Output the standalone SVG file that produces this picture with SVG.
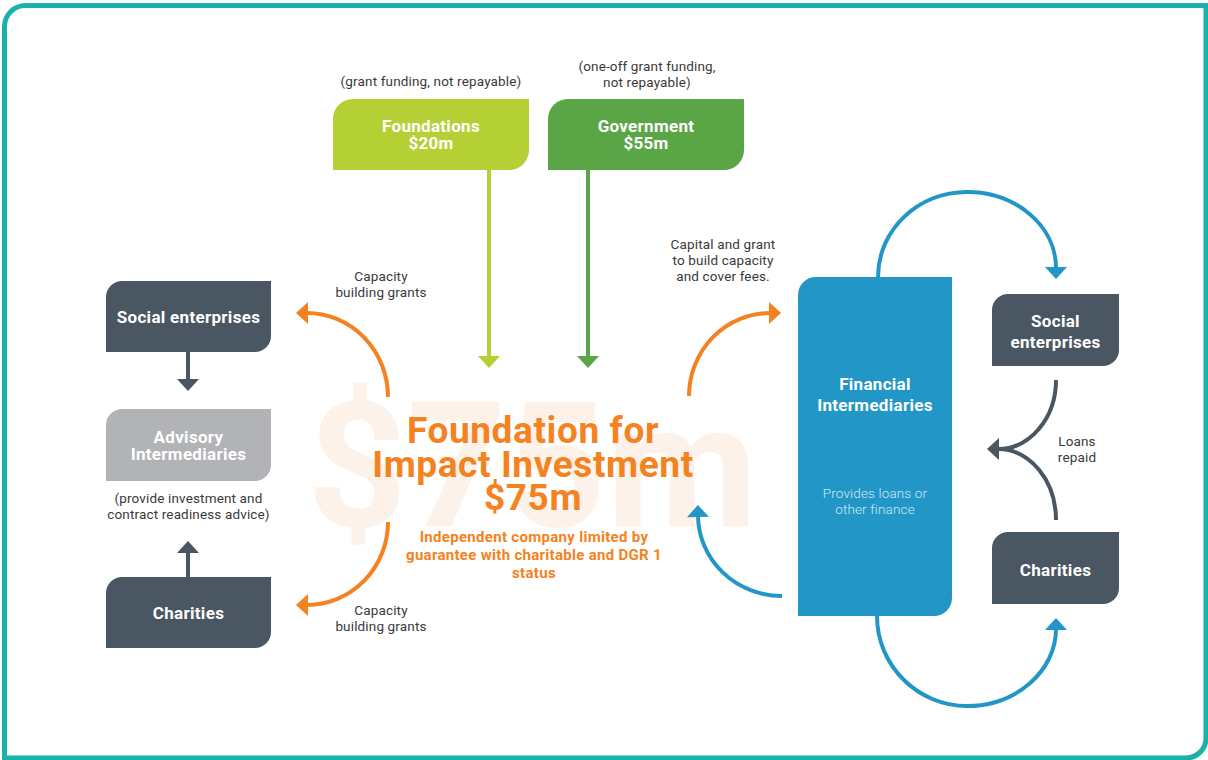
<svg xmlns="http://www.w3.org/2000/svg" width="1208" height="760" viewBox="0 0 1208 760">
  <style>
    .bold { font-family: Roboto, "Liberation Sans", sans-serif; font-weight: 700; text-anchor: middle; }
    .node-label { font-size: 17px; letter-spacing: 0.3px; fill: #ffffff; }
    .note { font-family: Roboto, "Liberation Sans", sans-serif; font-weight: 400; font-size: 13.5px; letter-spacing: 0.15px; fill: #3a3a3a; text-anchor: middle; }
    .note-light { font-family: Roboto, "Liberation Sans", sans-serif; font-weight: 300; font-size: 13.5px; letter-spacing: 0.15px; fill: #cfe9f5; text-anchor: middle; }
    .title { font-size: 37px; letter-spacing: 0.6px; fill: #f58220; }
    .subtitle { font-size: 15px; letter-spacing: 0.3px; fill: #f58220; }
    .watermark { font-size: 174px; fill: #fdf2ea; }
    .slate { fill: #4a5662; }
    .conn { fill: none; stroke-width: 4; }
  </style>
  <defs>
    <marker id="head-orange" markerUnits="userSpaceOnUse" markerWidth="13" markerHeight="22" refX="1" refY="11" orient="auto" overflow="visible">
      <path d="M0,0 L12,11 L0,22 Z" fill="#f58220"/>
    </marker>
    <marker id="head-blue" markerUnits="userSpaceOnUse" markerWidth="13" markerHeight="22" refX="1" refY="11" orient="auto" overflow="visible">
      <path d="M0,0 L12,11 L0,22 Z" fill="#2297c7"/>
    </marker>
    <marker id="head-lime" markerUnits="userSpaceOnUse" markerWidth="13" markerHeight="22" refX="1" refY="11" orient="auto" overflow="visible">
      <path d="M0,0 L12,11 L0,22 Z" fill="#b5d035"/>
    </marker>
    <marker id="head-green" markerUnits="userSpaceOnUse" markerWidth="13" markerHeight="22" refX="1" refY="11" orient="auto" overflow="visible">
      <path d="M0,0 L12,11 L0,22 Z" fill="#5aa646"/>
    </marker>
    <marker id="head-slate" markerUnits="userSpaceOnUse" markerWidth="13" markerHeight="22" refX="1" refY="11" orient="auto" overflow="visible">
      <path d="M0,0 L12,11 L0,22 Z" fill="#4a5662"/>
    </marker>
  </defs>

  <rect width="1208" height="760" fill="#ffffff"/>

  <!-- frame -->
  <path d="M4.5,758 V26 A21,21 0 0 1 25.5,5.5 H1206 V738 A20,20 0 0 1 1186,758 Z" fill="none" stroke="#19b2aa" stroke-width="5"/>

  <!-- large background amount -->
  <text class="bold watermark" x="532" y="526">$75m</text>

  <!-- connectors -->
  <g id="connectors">
    <line class="conn" x1="489" y1="170" x2="489" y2="357" stroke="#b5d035" marker-end="url(#head-lime)"/>
    <line class="conn" x1="588" y1="170" x2="588" y2="357" stroke="#5aa646" marker-end="url(#head-green)"/>
    <path class="conn" d="M388,397 A81,84 0 0 0 307,313" stroke="#f58220" marker-end="url(#head-orange)"/>
    <path class="conn" d="M388,522 A81,83 0 0 1 307,605" stroke="#f58220" marker-end="url(#head-orange)"/>
    <path class="conn" d="M689,396 A81,83 0 0 1 770,313" stroke="#f58220" marker-end="url(#head-orange)"/>
    <path class="conn" d="M782,596 A84,81 0 0 1 698,516" stroke="#2297c7" marker-end="url(#head-blue)"/>
    <line class="conn" x1="188" y1="352" x2="188" y2="380" stroke="#4a5662" marker-end="url(#head-slate)"/>
    <line class="conn" x1="188" y1="577" x2="188" y2="552" stroke="#4a5662" marker-end="url(#head-slate)"/>
    <path class="conn" d="M878,277 C878,230 918,192 967,192 C1016,192 1056,226 1056,268" stroke="#2297c7" marker-end="url(#head-blue)"/>
    <path class="conn" d="M877,616 C877,666 918,706 967,706 C1016,706 1056,671 1056,629" stroke="#2297c7" marker-end="url(#head-blue)"/>
    <path class="conn" d="M1056,380 A58,69 0 0 1 998,449" stroke="#4a5662" marker-end="url(#head-slate)"/>
    <path class="conn" d="M1056,520 A58,71 0 0 0 998,449" stroke="#4a5662"/>
  </g>

  <!-- connector labels -->
  <text class="note" x="381" y="281">Capacity</text>
  <text class="note" x="381" y="297">building grants</text>
  <text class="note" x="381" y="615">Capacity</text>
  <text class="note" x="381" y="631">building grants</text>
  <text class="note" x="723" y="249">Capital and grant</text>
  <text class="note" x="723" y="265">to build capacity</text>
  <text class="note" x="723" y="281">and cover fees.</text>
  <text class="note" x="1077" y="446">Loans</text>
  <text class="note" x="1077" y="462">repaid</text>

  <g id="foundations">
    <text class="note" x="431" y="86">(grant funding, not repayable)</text>
    <path d="M353,99 H529 V150 A20,20 0 0 1 509,170 H333 V119 A20,20 0 0 1 353,99 Z" fill="#b5d035"/>
    <text class="bold node-label" x="431" y="132">Foundations</text>
    <text class="bold node-label" x="431" y="149">$20m</text>
  </g>

  <g id="government">
    <text class="note" x="647" y="71">(one-off grant funding,</text>
    <text class="note" x="647" y="87">not repayable)</text>
    <path d="M568,99 H744 V150 A20,20 0 0 1 724,170 H548 V119 A20,20 0 0 1 568,99 Z" fill="#5aa646"/>
    <text class="bold node-label" x="646" y="132">Government</text>
    <text class="bold node-label" x="646" y="149">$55m</text>
  </g>

  <g id="fii">
    <text class="bold title" x="533" y="443">Foundation for</text>
    <text class="bold title" x="533" y="477">Impact Investment</text>
    <text class="bold title" x="533" y="510">$75m</text>
    <text class="bold subtitle" x="534" y="542">Independent company limited by</text>
    <text class="bold subtitle" x="534" y="560">guarantee with charitable and DGR 1</text>
    <text class="bold subtitle" x="534" y="578">status</text>
  </g>

  <g id="social-enterprises-left">
    <path class="slate" d="M122,281 H271 V336 A16,16 0 0 1 255,352 H106 V297 A16,16 0 0 1 122,281 Z"/>
    <text class="bold node-label" x="188.5" y="323">Social enterprises</text>
  </g>

  <g id="advisory-intermediaries">
    <path d="M122,409 H271 V465 A16,16 0 0 1 255,481 H106 V425 A16,16 0 0 1 122,409 Z" fill="#b1b3b6"/>
    <text class="bold node-label" x="188.5" y="443">Advisory</text>
    <text class="bold node-label" x="188.5" y="460">Intermediaries</text>
    <text class="note" x="188.5" y="503">(provide investment and</text>
    <text class="note" x="188.5" y="519">contract readiness advice)</text>
  </g>

  <g id="charities-left">
    <path class="slate" d="M122,577 H271 V632 A16,16 0 0 1 255,648 H106 V593 A16,16 0 0 1 122,577 Z"/>
    <text class="bold node-label" x="188.5" y="619">Charities</text>
  </g>

  <g id="financial-intermediaries">
    <path d="M816,277 H952 V598 A18,18 0 0 1 934,616 H798 V295 A18,18 0 0 1 816,277 Z" fill="#2297c7"/>
    <text class="bold node-label" x="875" y="390">Financial</text>
    <text class="bold node-label" x="875" y="411">Intermediaries</text>
    <text class="note-light" x="875" y="498">Provides loans or</text>
    <text class="note-light" x="875" y="514">other finance</text>
  </g>

  <g id="social-enterprises-right">
    <path class="slate" d="M1008,294 H1119 V350 A16,16 0 0 1 1103,366 H992 V310 A16,16 0 0 1 1008,294 Z"/>
    <text class="bold node-label" x="1055.5" y="327">Social</text>
    <text class="bold node-label" x="1055.5" y="348">enterprises</text>
  </g>

  <g id="charities-right">
    <path class="slate" d="M1008,532 H1119 V588 A16,16 0 0 1 1103,604 H992 V548 A16,16 0 0 1 1008,532 Z"/>
    <text class="bold node-label" x="1055.5" y="576">Charities</text>
  </g>
</svg>
